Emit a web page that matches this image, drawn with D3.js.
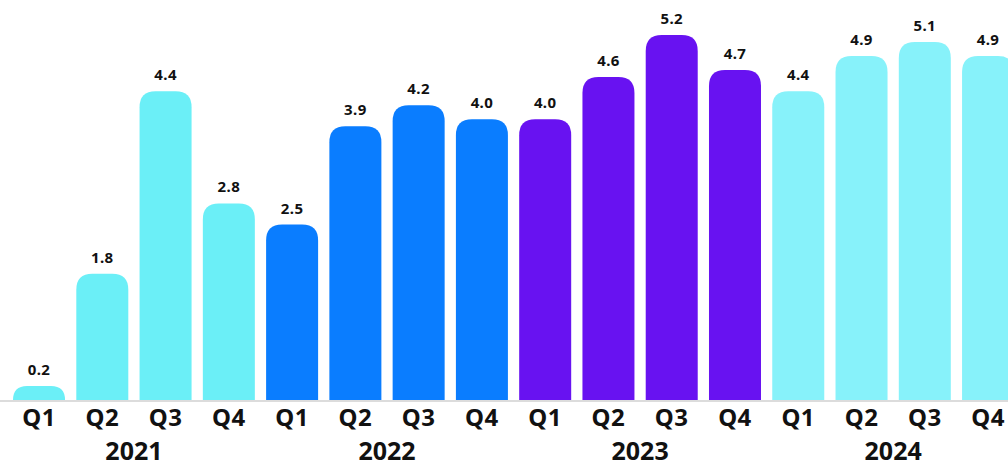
<!DOCTYPE html>
<html>
<head>
<meta charset="utf-8">
<script src="https://cdn.jsdelivr.net/npm/d3@7"></script>
<style>
  body { margin: 0; background: #fff; }
  svg { display: block; font-family: "Noto Sans", sans-serif; }
</style>
</head>
<body>
<div id="chart"></div>
<script>
let quarters = ["Q1", "Q2", "Q3", "Q4", "Q1", "Q2", "Q3", "Q4", "Q1", "Q2", "Q3", "Q4", "Q1", "Q2", "Q3", "Q4"];
let years = ["2021", "2022", "2023", "2024"];
let values = [0.2, 1.8, 4.4, 2.8, 2.5, 3.9, 4.2, 4.0, 4.0, 4.6, 5.2, 4.7, 4.4, 4.9, 5.1, 4.9];
let yearColors = ["#6befF7", "#0a7dff", "#6812f1", "#87f2fa"];

let width = 1008;
let height = 464;
let baseY = 400;

let svg = d3.select("#chart").append("svg")
    .attr("width", width)
    .attr("height", height);

let x = d3.scaleBand()
    .domain(d3.range(values.length))
    .range([7.4, 1019.7])
    .paddingInner(0.178)
    .paddingOuter(0.089);

let y = d3.scaleLinear()
    .domain([0, 5.2])
    .range([baseY, 35]);

// bar with rounded top corners
function barPath(i) {
    let x0 = x(i), w = x.bandwidth();
    let top = y(values[i]);
    let h = baseY - top;
    let r = Math.min(16, h, w / 2);
    return "M" + x0 + "," + baseY +
        "V" + (top + r) +
        "Q" + x0 + "," + top + " " + (x0 + r) + "," + top +
        "H" + (x0 + w - r) +
        "Q" + (x0 + w) + "," + top + " " + (x0 + w) + "," + (top + r) +
        "V" + baseY + "Z";
}

svg.selectAll("path.bar")
    .data(values)
    .enter()
    .append("path")
    .attr("class", "bar")
    .attr("d", (d, i) => barPath(i))
    .attr("fill", (d, i) => yearColors[Math.floor(i / 4)]);

svg.append("line")
    .attr("x1", 0).attr("x2", width)
    .attr("y1", baseY + 1).attr("y2", baseY + 1)
    .attr("stroke", "#dcdcdc")
    .attr("stroke-width", 2);

svg.selectAll("text.val")
    .data(values)
    .enter()
    .append("text")
    .attr("class", "val")
    .attr("x", (d, i) => x(i) + x.bandwidth() / 2)
    .attr("y", d => y(d) - 11)
    .attr("text-anchor", "middle")
    .attr("font-size", 15)
    .attr("font-weight", "bold")
    .attr("letter-spacing", 0.4)
    .attr("fill", "#111")
    .text(d => d.toFixed(1));

svg.selectAll("text.q")
    .data(quarters)
    .enter()
    .append("text")
    .attr("class", "q")
    .attr("x", (d, i) => x(i) + x.bandwidth() / 2)
    .attr("y", 426)
    .attr("text-anchor", "middle")
    .attr("font-size", 24)
    .attr("font-weight", "bold")
    .attr("letter-spacing", 0.5)
    .attr("fill", "#111")
    .text(d => d);

svg.selectAll("text.year")
    .data(years)
    .enter()
    .append("text")
    .attr("class", "year")
    .attr("x", (d, k) => (x(k * 4) + x(k * 4 + 3) + x.bandwidth()) / 2)
    .attr("y", 460)
    .attr("text-anchor", "middle")
    .attr("font-size", 25)
    .attr("font-weight", "bold")
    .attr("fill", "#111")
    .text(d => d);
</script>
</body>
</html>
